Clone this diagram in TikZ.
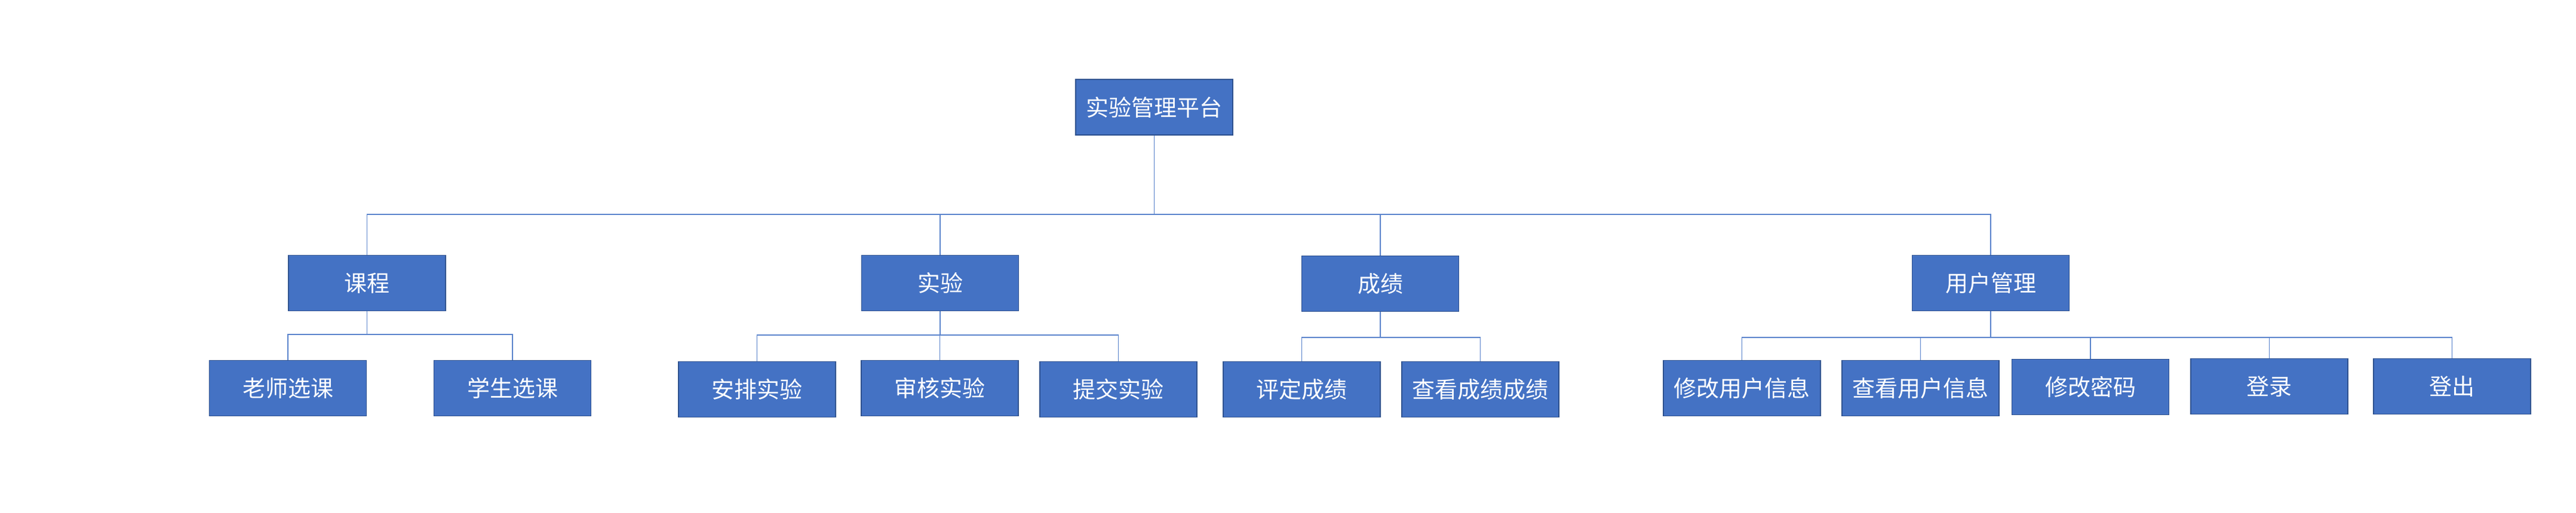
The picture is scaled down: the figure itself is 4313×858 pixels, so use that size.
\documentclass[tikz,border=0pt]{standalone}
\usepackage{fontspec}
\newfontfamily\cjk{Noto Sans CJK SC}
\usepackage{tikz}
\usetikzlibrary{calc}

\definecolor{boxblue}{HTML}{4472C4}
\definecolor{boxedge}{HTML}{2F528F}
\definecolor{linkblue}{HTML}{5B84CC}

\tikzset{
  modbox/.style={draw=boxedge, line width=0.8pt, fill=boxblue, text=white,
    minimum width=131.5pt, minimum height=46.5pt, inner sep=0pt,
    font=\cjk\fontsize{19}{23}\selectfont},
  link/.style={draw=linkblue, line width=0.6pt}
}

\begin{document}
\begin{tikzpicture}[x=0.5pt,y=0.5pt]
            \useasboundingbox (0,0) rectangle (4313,858);

            % Root
            \node[modbox] (root) at (1932.5,678.5) {实验管理平台};

            % First level
            \node[modbox] (kc) at (614.5,384) {课程};
            \node[modbox] (sy) at (1574,384) {实验};
            \node[modbox] (cj) at (2311,383) {成绩};
            \node[modbox] (yh) at (3333,384) {用户管理};

            % Second level
            \node[modbox] (kc1) at (482,208) {老师选课};
            \node[modbox] (kc2) at (858,208) {学生选课};
            \node[modbox] (sy1) at (1267.5,206) {安排实验};
            \node[modbox] (sy2) at (1573.5,208) {审核实验};
            \node[modbox] (sy3) at (1872.5,206) {提交实验};
            \node[modbox] (cj1) at (2179.5,206) {评定成绩};
            \node[modbox] (cj2) at (2478.5,206) {查看成绩成绩};
            \node[modbox] (yh1) at (2916.5,208) {修改用户信息};
            \node[modbox] (yh2) at (3215.5,208) {查看用户信息};
            \node[modbox] (yh3) at (3500,210) {修改密码};
            \node[modbox] (yh4) at (3799.5,211) {登录};
            \node[modbox] (yh5) at (4105.5,211) {登出};

            % Bus lines
            \coordinate (bus0) at (0,499);
            \coordinate (buskc) at (0,298);
            \coordinate (bussy) at (0,297);
            \coordinate (buscj) at (0,293);
            \coordinate (busyh) at (0,293);

            % Connectors
            \foreach \c in {kc,sy,cj,yh}
            {
                \draw[link] (root.south) -- (root.south |- bus0) -| (\c.north);
            }
            \foreach \c in {kc1,kc2}
                \draw[link] (kc.south) -- (kc.south |- buskc) -| (\c.north);
            \foreach \c in {sy1,sy2,sy3}
                \draw[link] (sy.south) -- (sy.south |- bussy) -| (\c.north);
            \foreach \c in {cj1,cj2}
                \draw[link] (cj.south) -- (cj.south |- buscj) -| (\c.north);
            \foreach \c in {yh1,yh2,yh3,yh4,yh5}
                \draw[link] (yh.south) -- (yh.south |- busyh) -| (\c.north);
\end{tikzpicture}
\end{document}
